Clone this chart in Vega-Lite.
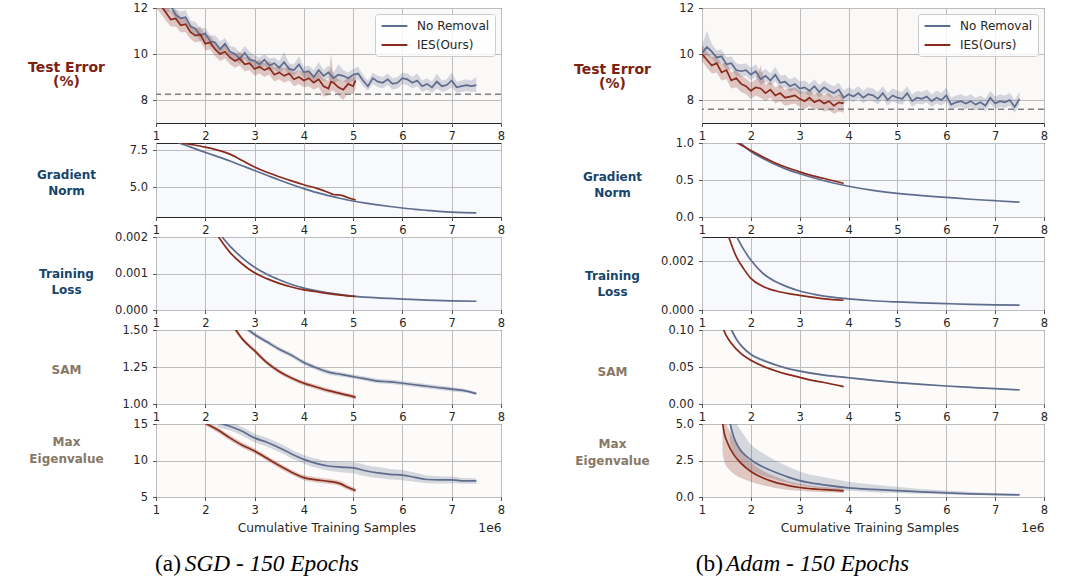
{
"$schema":"https://vega.github.io/schema/vega-lite/v6.json",
"background":"white",
"padding":{"left":27,"top":1,"right":5,"bottom":0},
"config":{
 "font":"DejaVu Sans",
 "view":{"stroke":"#262626","strokeWidth":1},
 "axis":{"labelFont":"DejaVu Sans","labelFontSize":11.5,"labelColor":"#262626","tickColor":"#262626","tickSize":3.5,"tickWidth":0.8,"domain":false,"grid":true,"gridColor":"#bdbdbd","gridWidth":1,"labelPadding":4,"titleFont":"DejaVu Sans","titleColor":"#262626","titleFontWeight":"normal","titleFontSize":12.25},
 "axisY":{"labelPadding":5,"titleAngle":0,"titleAlign":"center","titleBaseline":"middle","titleX":-90,"titleFontWeight":"bold","titleFontSize":12,"titleLineHeight":16},
 "axisX":{"labelFlush":false}
},
"datasets":{
"sgdTE":[
{"s":"N","x":1.0,"y":12.55,"l":12.25,"h":12.85},{"s":"N","x":1.1,"y":12.4,"l":12.15,"h":12.7},{"s":"N","x":1.2,"y":12.05,"l":11.8,"h":12.35},{"s":"N","x":1.3,"y":12.1,"l":11.85,"h":12.4},{"s":"N","x":1.4,"y":11.7,"l":11.45,"h":11.95},{"s":"N","x":1.5,"y":11.55,"l":11.3,"h":11.85},{"s":"N","x":1.6,"y":11.6,"l":11.35,"h":11.9},{"s":"N","x":1.7,"y":11.2,"l":10.95,"h":11.45},{"s":"N","x":1.8,"y":11.1,"l":10.85,"h":11.4},{"s":"N","x":1.9,"y":10.8,"l":10.55,"h":11.1},{"s":"N","x":2.0,"y":10.9,"l":10.65,"h":11.15},{"s":"N","x":2.1,"y":10.55,"l":10.3,"h":10.8},{"s":"N","x":2.2,"y":10.5,"l":10.25,"h":10.8},{"s":"N","x":2.3,"y":10.2,"l":9.95,"h":10.55},{"s":"N","x":2.4,"y":10.45,"l":10.2,"h":10.7},{"s":"N","x":2.5,"y":10.1,"l":9.85,"h":10.35},{"s":"N","x":2.6,"y":10.0,"l":9.75,"h":10.3},{"s":"N","x":2.7,"y":9.8,"l":9.55,"h":10.05},{"s":"N","x":2.8,"y":10.05,"l":9.8,"h":10.35},{"s":"N","x":2.9,"y":9.75,"l":9.5,"h":10.1},{"s":"N","x":3.0,"y":9.7,"l":9.45,"h":9.95},{"s":"N","x":3.1,"y":9.55,"l":9.3,"h":9.85},{"s":"N","x":3.2,"y":9.75,"l":9.5,"h":10.0},{"s":"N","x":3.3,"y":9.5,"l":9.25,"h":9.8},{"s":"N","x":3.4,"y":9.6,"l":9.35,"h":9.85},{"s":"N","x":3.5,"y":9.4,"l":9.15,"h":9.7},{"s":"N","x":3.6,"y":9.65,"l":9.35,"h":10.1},{"s":"N","x":3.7,"y":9.35,"l":9.1,"h":9.6},{"s":"N","x":3.8,"y":9.3,"l":9.05,"h":9.55},{"s":"N","x":3.9,"y":9.55,"l":9.3,"h":9.9},{"s":"N","x":4.0,"y":9.2,"l":8.95,"h":9.45},{"s":"N","x":4.1,"y":9.25,"l":9.0,"h":9.5},{"s":"N","x":4.2,"y":9.0,"l":8.75,"h":9.3},{"s":"N","x":4.3,"y":9.3,"l":9.0,"h":9.65},{"s":"N","x":4.4,"y":9.05,"l":8.8,"h":9.3},{"s":"N","x":4.5,"y":9.2,"l":8.95,"h":9.5},{"s":"N","x":4.6,"y":8.95,"l":8.7,"h":9.2},{"s":"N","x":4.7,"y":9.1,"l":8.85,"h":9.55},{"s":"N","x":4.8,"y":9.05,"l":8.8,"h":9.3},{"s":"N","x":4.9,"y":8.95,"l":8.7,"h":9.2},{"s":"N","x":5.0,"y":9.1,"l":8.85,"h":9.35},{"s":"N","x":5.1,"y":9.15,"l":8.9,"h":9.45},{"s":"N","x":5.2,"y":8.85,"l":8.6,"h":9.1},{"s":"N","x":5.3,"y":8.6,"l":8.4,"h":8.85},{"s":"N","x":5.4,"y":8.95,"l":8.7,"h":9.2},{"s":"N","x":5.5,"y":8.8,"l":8.55,"h":9.05},{"s":"N","x":5.6,"y":8.75,"l":8.5,"h":9.0},{"s":"N","x":5.7,"y":8.9,"l":8.65,"h":9.15},{"s":"N","x":5.8,"y":8.7,"l":8.45,"h":8.95},{"s":"N","x":5.9,"y":8.75,"l":8.5,"h":9.0},{"s":"N","x":6.0,"y":8.95,"l":8.7,"h":9.2},{"s":"N","x":6.1,"y":8.9,"l":8.65,"h":9.15},{"s":"N","x":6.2,"y":8.75,"l":8.5,"h":9.0},{"s":"N","x":6.3,"y":8.85,"l":8.6,"h":9.15},{"s":"N","x":6.4,"y":8.6,"l":8.35,"h":8.85},{"s":"N","x":6.5,"y":8.7,"l":8.45,"h":8.95},{"s":"N","x":6.6,"y":8.55,"l":8.3,"h":8.8},{"s":"N","x":6.7,"y":8.8,"l":8.5,"h":9.15},{"s":"N","x":6.8,"y":8.6,"l":8.35,"h":8.85},{"s":"N","x":6.9,"y":8.65,"l":8.4,"h":8.9},{"s":"N","x":7.0,"y":8.85,"l":8.55,"h":9.2},{"s":"N","x":7.1,"y":8.55,"l":8.3,"h":8.8},{"s":"N","x":7.2,"y":8.6,"l":8.35,"h":8.85},{"s":"N","x":7.3,"y":8.65,"l":8.4,"h":8.9},{"s":"N","x":7.4,"y":8.6,"l":8.35,"h":8.85},{"s":"N","x":7.5,"y":8.65,"l":8.35,"h":9.0},
{"s":"I","x":1.0,"y":12.4,"l":12.0,"h":12.8},{"s":"I","x":1.1,"y":12.1,"l":11.75,"h":12.5},{"s":"I","x":1.2,"y":11.8,"l":11.45,"h":12.15},{"s":"I","x":1.3,"y":11.5,"l":11.2,"h":11.85},{"s":"I","x":1.4,"y":11.55,"l":11.2,"h":11.9},{"s":"I","x":1.5,"y":11.25,"l":10.95,"h":11.6},{"s":"I","x":1.6,"y":11.3,"l":10.95,"h":11.6},{"s":"I","x":1.7,"y":10.95,"l":10.65,"h":11.3},{"s":"I","x":1.8,"y":10.8,"l":10.5,"h":11.1},{"s":"I","x":1.9,"y":10.85,"l":10.55,"h":11.2},{"s":"I","x":2.0,"y":10.45,"l":10.15,"h":10.8},{"s":"I","x":2.1,"y":10.5,"l":10.2,"h":10.8},{"s":"I","x":2.2,"y":10.2,"l":9.9,"h":10.5},{"s":"I","x":2.3,"y":10.0,"l":9.7,"h":10.3},{"s":"I","x":2.4,"y":10.1,"l":9.8,"h":10.4},{"s":"I","x":2.5,"y":9.85,"l":9.55,"h":10.15},{"s":"I","x":2.6,"y":9.7,"l":9.4,"h":10.0},{"s":"I","x":2.7,"y":9.8,"l":9.5,"h":10.1},{"s":"I","x":2.8,"y":9.55,"l":9.25,"h":9.85},{"s":"I","x":2.9,"y":9.6,"l":9.3,"h":9.9},{"s":"I","x":3.0,"y":9.35,"l":9.05,"h":9.65},{"s":"I","x":3.1,"y":9.45,"l":9.15,"h":9.75},{"s":"I","x":3.2,"y":9.3,"l":9.0,"h":9.6},{"s":"I","x":3.3,"y":9.4,"l":9.1,"h":9.7},{"s":"I","x":3.4,"y":9.1,"l":8.8,"h":9.4},{"s":"I","x":3.5,"y":9.2,"l":8.9,"h":9.5},{"s":"I","x":3.6,"y":9.05,"l":8.75,"h":9.35},{"s":"I","x":3.7,"y":9.15,"l":8.85,"h":9.5},{"s":"I","x":3.8,"y":8.9,"l":8.6,"h":9.2},{"s":"I","x":3.9,"y":9.0,"l":8.7,"h":9.3},{"s":"I","x":4.0,"y":8.85,"l":8.55,"h":9.15},{"s":"I","x":4.1,"y":8.95,"l":8.6,"h":9.3},{"s":"I","x":4.2,"y":8.75,"l":8.45,"h":9.05},{"s":"I","x":4.3,"y":8.9,"l":8.55,"h":9.2},{"s":"I","x":4.4,"y":8.6,"l":8.15,"h":8.9},{"s":"I","x":4.5,"y":8.5,"l":8.2,"h":8.85},{"s":"I","x":4.55,"y":8.8,"l":8.4,"h":10.0},{"s":"I","x":4.6,"y":8.75,"l":8.4,"h":9.1},{"s":"I","x":4.7,"y":8.55,"l":8.2,"h":8.9},{"s":"I","x":4.8,"y":8.45,"l":8.0,"h":8.8},{"s":"I","x":4.9,"y":8.7,"l":8.3,"h":9.0},{"s":"I","x":5.0,"y":8.6,"l":8.25,"h":8.95},{"s":"I","x":5.05,"y":8.85,"l":8.5,"h":9.15}
],
"adamTE":[
{"s":"N","x":1.0,"y":10.05,"l":9.75,"h":10.4},{"s":"N","x":1.1,"y":10.3,"l":9.95,"h":11.0},{"s":"N","x":1.2,"y":10.1,"l":9.8,"h":10.45},{"s":"N","x":1.3,"y":9.85,"l":9.55,"h":10.15},{"s":"N","x":1.4,"y":9.9,"l":9.6,"h":10.2},{"s":"N","x":1.5,"y":9.55,"l":9.3,"h":9.85},{"s":"N","x":1.6,"y":9.6,"l":9.35,"h":9.9},{"s":"N","x":1.7,"y":9.3,"l":9.05,"h":9.6},{"s":"N","x":1.8,"y":9.25,"l":9.0,"h":9.55},{"s":"N","x":1.9,"y":9.3,"l":9.05,"h":9.6},{"s":"N","x":2.0,"y":9.1,"l":8.85,"h":9.4},{"s":"N","x":2.1,"y":9.25,"l":9.0,"h":9.55},{"s":"N","x":2.2,"y":8.9,"l":8.65,"h":9.2},{"s":"N","x":2.3,"y":9.05,"l":8.8,"h":9.35},{"s":"N","x":2.4,"y":8.85,"l":8.6,"h":9.15},{"s":"N","x":2.5,"y":9.1,"l":8.8,"h":9.45},{"s":"N","x":2.6,"y":8.75,"l":8.5,"h":9.05},{"s":"N","x":2.7,"y":8.8,"l":8.55,"h":9.1},{"s":"N","x":2.8,"y":8.6,"l":8.35,"h":8.9},{"s":"N","x":2.9,"y":8.7,"l":8.45,"h":9.0},{"s":"N","x":3.0,"y":8.5,"l":8.25,"h":8.8},{"s":"N","x":3.1,"y":8.55,"l":8.3,"h":8.85},{"s":"N","x":3.2,"y":8.4,"l":8.15,"h":8.7},{"s":"N","x":3.3,"y":8.6,"l":8.35,"h":8.9},{"s":"N","x":3.4,"y":8.35,"l":8.1,"h":8.65},{"s":"N","x":3.5,"y":8.55,"l":8.3,"h":8.85},{"s":"N","x":3.6,"y":8.4,"l":8.15,"h":8.7},{"s":"N","x":3.7,"y":8.3,"l":8.05,"h":8.6},{"s":"N","x":3.8,"y":8.45,"l":8.2,"h":8.75},{"s":"N","x":3.9,"y":8.1,"l":7.85,"h":8.4},{"s":"N","x":4.0,"y":8.25,"l":8.0,"h":8.55},{"s":"N","x":4.1,"y":8.15,"l":7.9,"h":8.45},{"s":"N","x":4.2,"y":8.3,"l":8.05,"h":8.6},{"s":"N","x":4.3,"y":8.1,"l":7.85,"h":8.4},{"s":"N","x":4.4,"y":8.25,"l":8.0,"h":8.55},{"s":"N","x":4.5,"y":8.2,"l":7.95,"h":8.5},{"s":"N","x":4.6,"y":8.05,"l":7.8,"h":8.35},{"s":"N","x":4.7,"y":8.3,"l":8.05,"h":8.6},{"s":"N","x":4.8,"y":8.0,"l":7.75,"h":8.3},{"s":"N","x":4.9,"y":8.2,"l":7.95,"h":8.5},{"s":"N","x":5.0,"y":8.1,"l":7.85,"h":8.4},{"s":"N","x":5.1,"y":8.05,"l":7.8,"h":8.35},{"s":"N","x":5.2,"y":8.3,"l":8.05,"h":8.6},{"s":"N","x":5.3,"y":7.95,"l":7.7,"h":8.25},{"s":"N","x":5.4,"y":8.1,"l":7.85,"h":8.4},{"s":"N","x":5.5,"y":8.05,"l":7.8,"h":8.35},{"s":"N","x":5.6,"y":8.15,"l":7.9,"h":8.45},{"s":"N","x":5.7,"y":7.95,"l":7.7,"h":8.25},{"s":"N","x":5.8,"y":8.1,"l":7.85,"h":8.4},{"s":"N","x":5.9,"y":8.0,"l":7.75,"h":8.3},{"s":"N","x":6.0,"y":8.2,"l":7.95,"h":8.55},{"s":"N","x":6.1,"y":7.8,"l":7.55,"h":8.1},{"s":"N","x":6.2,"y":7.9,"l":7.65,"h":8.2},{"s":"N","x":6.3,"y":7.95,"l":7.7,"h":8.25},{"s":"N","x":6.4,"y":7.85,"l":7.6,"h":8.15},{"s":"N","x":6.5,"y":7.95,"l":7.7,"h":8.25},{"s":"N","x":6.6,"y":7.8,"l":7.55,"h":8.1},{"s":"N","x":6.7,"y":7.9,"l":7.65,"h":8.2},{"s":"N","x":6.8,"y":7.75,"l":7.5,"h":8.05},{"s":"N","x":6.9,"y":8.1,"l":7.85,"h":8.4},{"s":"N","x":7.0,"y":7.85,"l":7.6,"h":8.15},{"s":"N","x":7.1,"y":7.95,"l":7.7,"h":8.25},{"s":"N","x":7.2,"y":7.9,"l":7.65,"h":8.2},{"s":"N","x":7.3,"y":8.0,"l":7.75,"h":8.3},{"s":"N","x":7.4,"y":7.7,"l":7.45,"h":8.0},{"s":"N","x":7.5,"y":8.05,"l":7.8,"h":8.35},
{"s":"I","x":1.0,"y":10.0,"l":9.7,"h":10.4},{"s":"I","x":1.1,"y":9.75,"l":9.4,"h":10.1},{"s":"I","x":1.2,"y":9.5,"l":9.15,"h":9.85},{"s":"I","x":1.3,"y":9.6,"l":9.2,"h":9.95},{"s":"I","x":1.4,"y":9.2,"l":8.85,"h":9.55},{"s":"I","x":1.5,"y":9.3,"l":8.9,"h":9.65},{"s":"I","x":1.6,"y":8.85,"l":8.5,"h":9.2},{"s":"I","x":1.7,"y":8.95,"l":8.55,"h":9.3},{"s":"I","x":1.8,"y":8.7,"l":8.35,"h":9.05},{"s":"I","x":1.9,"y":8.6,"l":8.25,"h":8.95},{"s":"I","x":2.0,"y":8.4,"l":8.05,"h":8.75},{"s":"I","x":2.1,"y":8.55,"l":8.2,"h":8.9},{"s":"I","x":2.2,"y":8.5,"l":8.1,"h":9.5},{"s":"I","x":2.3,"y":8.3,"l":7.95,"h":8.65},{"s":"I","x":2.4,"y":8.45,"l":8.1,"h":8.8},{"s":"I","x":2.5,"y":8.2,"l":7.85,"h":8.55},{"s":"I","x":2.6,"y":8.3,"l":7.95,"h":8.65},{"s":"I","x":2.7,"y":8.1,"l":7.75,"h":8.45},{"s":"I","x":2.8,"y":8.15,"l":7.8,"h":8.5},{"s":"I","x":2.9,"y":8.2,"l":7.85,"h":8.55},{"s":"I","x":3.0,"y":8.05,"l":7.7,"h":8.4},{"s":"I","x":3.1,"y":7.95,"l":7.6,"h":8.3},{"s":"I","x":3.2,"y":8.1,"l":7.75,"h":8.45},{"s":"I","x":3.3,"y":7.9,"l":7.55,"h":8.25},{"s":"I","x":3.4,"y":8.0,"l":7.65,"h":8.35},{"s":"I","x":3.5,"y":7.85,"l":7.5,"h":8.2},{"s":"I","x":3.6,"y":7.95,"l":7.55,"h":8.3},{"s":"I","x":3.7,"y":7.75,"l":7.4,"h":8.1},{"s":"I","x":3.8,"y":7.9,"l":7.5,"h":8.25},{"s":"I","x":3.9,"y":7.85,"l":7.45,"h":8.2}
],
"sgdGN":[
{"s":"N","x":1.45,"y":8.02},{"s":"N","x":1.6,"y":7.85},{"s":"N","x":1.8,"y":7.6},{"s":"N","x":2.0,"y":7.37},{"s":"N","x":2.25,"y":7.08},{"s":"N","x":2.5,"y":6.78},{"s":"N","x":2.75,"y":6.46},{"s":"N","x":3.0,"y":6.14},{"s":"N","x":3.25,"y":5.82},{"s":"N","x":3.5,"y":5.5},{"s":"N","x":3.75,"y":5.2},{"s":"N","x":4.0,"y":4.92},{"s":"N","x":4.25,"y":4.66},{"s":"N","x":4.5,"y":4.44},{"s":"N","x":4.75,"y":4.25},{"s":"N","x":5.0,"y":4.08},{"s":"N","x":5.25,"y":3.94},{"s":"N","x":5.5,"y":3.82},{"s":"N","x":5.75,"y":3.71},{"s":"N","x":6.0,"y":3.61},{"s":"N","x":6.25,"y":3.52},{"s":"N","x":6.5,"y":3.45},{"s":"N","x":6.75,"y":3.38},{"s":"N","x":7.0,"y":3.33},{"s":"N","x":7.25,"y":3.3},{"s":"N","x":7.5,"y":3.28},
{"s":"I","x":1.5,"y":8.02},{"s":"I","x":1.75,"y":7.88},{"s":"I","x":2.0,"y":7.72},{"s":"I","x":2.25,"y":7.52},{"s":"I","x":2.5,"y":7.25},{"s":"I","x":2.75,"y":6.82},{"s":"I","x":3.0,"y":6.38},{"s":"I","x":3.25,"y":6.02},{"s":"I","x":3.5,"y":5.72},{"s":"I","x":3.75,"y":5.44},{"s":"I","x":4.0,"y":5.18},{"s":"I","x":4.25,"y":4.95},{"s":"I","x":4.5,"y":4.66},{"s":"I","x":4.6,"y":4.52},{"s":"I","x":4.75,"y":4.48},{"s":"I","x":4.9,"y":4.3},{"s":"I","x":5.05,"y":4.16}
],
"sgdTL":[
{"s":"N","x":2.3,"y":0.00207},{"s":"N","x":2.5,"y":0.00175},{"s":"N","x":2.75,"y":0.00143},{"s":"N","x":3.0,"y":0.00117},{"s":"N","x":3.25,"y":0.00098},{"s":"N","x":3.5,"y":0.00083},{"s":"N","x":3.75,"y":0.0007},{"s":"N","x":4.0,"y":0.0006},{"s":"N","x":4.5,"y":0.00047},{"s":"N","x":5.0,"y":0.00038},{"s":"N","x":5.5,"y":0.00033},{"s":"N","x":6.0,"y":0.0003},{"s":"N","x":6.5,"y":0.00027},{"s":"N","x":7.0,"y":0.00025},{"s":"N","x":7.5,"y":0.00024},
{"s":"I","x":2.23,"y":0.00208},{"s":"I","x":2.5,"y":0.00158},{"s":"I","x":2.75,"y":0.00126},{"s":"I","x":3.0,"y":0.00102},{"s":"I","x":3.25,"y":0.00086},{"s":"I","x":3.5,"y":0.00073},{"s":"I","x":3.75,"y":0.00063},{"s":"I","x":4.0,"y":0.00055},{"s":"I","x":4.25,"y":0.0005},{"s":"I","x":4.5,"y":0.00045},{"s":"I","x":4.75,"y":0.00041},{"s":"I","x":5.05,"y":0.00037}
],
"sgdSAM":[
{"s":"N","x":2.8,"y":1.52,"l":1.505,"h":1.535},{"s":"N","x":3.0,"y":1.47,"l":1.455,"h":1.485},{"s":"N","x":3.25,"y":1.42,"l":1.405,"h":1.435},{"s":"N","x":3.5,"y":1.37,"l":1.355,"h":1.385},{"s":"N","x":3.75,"y":1.33,"l":1.315,"h":1.345},{"s":"N","x":4.0,"y":1.28,"l":1.265,"h":1.295},{"s":"N","x":4.25,"y":1.245,"l":1.23,"h":1.26},{"s":"N","x":4.5,"y":1.215,"l":1.2,"h":1.23},{"s":"N","x":4.75,"y":1.2,"l":1.185,"h":1.215},{"s":"N","x":5.0,"y":1.185,"l":1.17,"h":1.2},{"s":"N","x":5.25,"y":1.17,"l":1.155,"h":1.185},{"s":"N","x":5.5,"y":1.155,"l":1.14,"h":1.17},{"s":"N","x":5.75,"y":1.15,"l":1.135,"h":1.165},{"s":"N","x":6.0,"y":1.14,"l":1.125,"h":1.155},{"s":"N","x":6.25,"y":1.13,"l":1.115,"h":1.145},{"s":"N","x":6.5,"y":1.12,"l":1.105,"h":1.135},{"s":"N","x":6.75,"y":1.11,"l":1.095,"h":1.125},{"s":"N","x":7.0,"y":1.1,"l":1.085,"h":1.115},{"s":"N","x":7.25,"y":1.09,"l":1.077,"h":1.103},{"s":"N","x":7.5,"y":1.07,"l":1.06,"h":1.08},
{"s":"I","x":2.58,"y":1.52,"l":1.5,"h":1.54},{"s":"I","x":2.75,"y":1.44,"l":1.425,"h":1.455},{"s":"I","x":3.0,"y":1.36,"l":1.345,"h":1.375},{"s":"I","x":3.25,"y":1.28,"l":1.265,"h":1.295},{"s":"I","x":3.5,"y":1.22,"l":1.205,"h":1.235},{"s":"I","x":3.75,"y":1.175,"l":1.16,"h":1.19},{"s":"I","x":4.0,"y":1.14,"l":1.125,"h":1.155},{"s":"I","x":4.25,"y":1.115,"l":1.1,"h":1.13},{"s":"I","x":4.5,"y":1.09,"l":1.075,"h":1.105},{"s":"I","x":4.75,"y":1.07,"l":1.055,"h":1.085},{"s":"I","x":5.0,"y":1.05,"l":1.035,"h":1.065},{"s":"I","x":5.05,"y":1.045,"l":1.03,"h":1.06}
],
"sgdEIG":[
{"s":"N","x":2.25,"y":15.2,"l":14.6,"h":15.8},{"s":"N","x":2.5,"y":14.7,"l":14.1,"h":15.3},{"s":"N","x":2.75,"y":14.0,"l":13.4,"h":14.6},{"s":"N","x":3.0,"y":13.1,"l":12.5,"h":13.7},{"s":"N","x":3.25,"y":12.5,"l":11.9,"h":13.1},{"s":"N","x":3.5,"y":11.75,"l":11.15,"h":12.35},{"s":"N","x":3.75,"y":10.9,"l":10.3,"h":11.5},{"s":"N","x":4.0,"y":10.15,"l":9.55,"h":10.75},{"s":"N","x":4.25,"y":9.6,"l":9.0,"h":10.25},{"s":"N","x":4.5,"y":9.25,"l":8.6,"h":9.9},{"s":"N","x":4.75,"y":9.1,"l":8.4,"h":9.8},{"s":"N","x":5.0,"y":9.0,"l":8.25,"h":9.75},{"s":"N","x":5.25,"y":8.6,"l":7.85,"h":9.4},{"s":"N","x":5.5,"y":8.3,"l":7.6,"h":9.1},{"s":"N","x":5.75,"y":8.1,"l":7.4,"h":8.85},{"s":"N","x":6.0,"y":8.0,"l":7.3,"h":8.7},{"s":"N","x":6.25,"y":7.7,"l":7.1,"h":8.35},{"s":"N","x":6.5,"y":7.4,"l":6.9,"h":7.95},{"s":"N","x":6.75,"y":7.35,"l":6.85,"h":7.85},{"s":"N","x":7.0,"y":7.35,"l":6.9,"h":7.8},{"s":"N","x":7.25,"y":7.2,"l":6.8,"h":7.6},{"s":"N","x":7.5,"y":7.2,"l":6.8,"h":7.55},
{"s":"I","x":2.0,"y":15.1,"l":14.8,"h":15.4},{"s":"I","x":2.25,"y":14.2,"l":13.85,"h":14.55},{"s":"I","x":2.5,"y":13.1,"l":12.75,"h":13.45},{"s":"I","x":2.75,"y":12.1,"l":11.75,"h":12.45},{"s":"I","x":3.0,"y":11.3,"l":10.95,"h":11.65},{"s":"I","x":3.25,"y":10.3,"l":9.95,"h":10.65},{"s":"I","x":3.5,"y":9.3,"l":8.95,"h":9.65},{"s":"I","x":3.75,"y":8.4,"l":8.05,"h":8.75},{"s":"I","x":4.0,"y":7.65,"l":7.3,"h":8.0},{"s":"I","x":4.25,"y":7.35,"l":7.0,"h":7.7},{"s":"I","x":4.5,"y":7.15,"l":6.8,"h":7.5},{"s":"I","x":4.75,"y":6.8,"l":6.45,"h":7.15},{"s":"I","x":4.9,"y":6.3,"l":5.95,"h":6.65},{"s":"I","x":5.05,"y":5.9,"l":5.6,"h":6.2}
],
"adamGN":[
{"s":"N","x":1.77,"y":1.01},{"s":"N","x":2.0,"y":0.885},{"s":"N","x":2.25,"y":0.79},{"s":"N","x":2.5,"y":0.71},{"s":"N","x":2.75,"y":0.64},{"s":"N","x":3.0,"y":0.585},{"s":"N","x":3.5,"y":0.49},{"s":"N","x":4.0,"y":0.415},{"s":"N","x":4.5,"y":0.36},{"s":"N","x":5.0,"y":0.32},{"s":"N","x":5.5,"y":0.29},{"s":"N","x":6.0,"y":0.265},{"s":"N","x":6.5,"y":0.24},{"s":"N","x":7.0,"y":0.22},{"s":"N","x":7.5,"y":0.2},
{"s":"I","x":1.7,"y":1.01},{"s":"I","x":2.0,"y":0.9},{"s":"I","x":2.25,"y":0.81},{"s":"I","x":2.5,"y":0.73},{"s":"I","x":2.75,"y":0.665},{"s":"I","x":3.0,"y":0.61},{"s":"I","x":3.25,"y":0.56},{"s":"I","x":3.5,"y":0.52},{"s":"I","x":3.75,"y":0.48},{"s":"I","x":3.9,"y":0.455}
],
"adamTL":[
{"s":"N","x":1.7,"y":0.00305},{"s":"N","x":1.85,"y":0.0025},{"s":"N","x":2.0,"y":0.00205},{"s":"N","x":2.25,"y":0.0015},{"s":"N","x":2.5,"y":0.00117},{"s":"N","x":2.75,"y":0.00095},{"s":"N","x":3.0,"y":0.00078},{"s":"N","x":3.5,"y":0.00057},{"s":"N","x":4.0,"y":0.00046},{"s":"N","x":4.5,"y":0.00038},{"s":"N","x":5.0,"y":0.00033},{"s":"N","x":5.5,"y":0.00029},{"s":"N","x":6.0,"y":0.00026},{"s":"N","x":6.5,"y":0.00023},{"s":"N","x":7.0,"y":0.00021},{"s":"N","x":7.5,"y":0.0002},
{"s":"I","x":1.54,"y":0.00305},{"s":"I","x":1.6,"y":0.0027},{"s":"I","x":1.7,"y":0.0022},{"s":"I","x":1.85,"y":0.0017},{"s":"I","x":2.0,"y":0.0013},{"s":"I","x":2.25,"y":0.00097},{"s":"I","x":2.5,"y":0.00079},{"s":"I","x":2.75,"y":0.00068},{"s":"I","x":3.0,"y":0.0006},{"s":"I","x":3.5,"y":0.00046},{"s":"I","x":3.9,"y":0.0004}
],
"adamSAM":[
{"s":"N","x":1.59,"y":0.102,"l":0.099,"h":0.105},{"s":"N","x":1.7,"y":0.088,"l":0.085,"h":0.091},{"s":"N","x":1.8,"y":0.079,"l":0.0765,"h":0.0815},{"s":"N","x":2.0,"y":0.067,"l":0.065,"h":0.069},{"s":"N","x":2.25,"y":0.059,"l":0.057,"h":0.061},{"s":"N","x":2.5,"y":0.053,"l":0.0515,"h":0.0545},{"s":"N","x":2.75,"y":0.048,"l":0.0465,"h":0.0495},{"s":"N","x":3.0,"y":0.0445,"l":0.043,"h":0.046},{"s":"N","x":3.5,"y":0.039,"l":0.0377,"h":0.0403},{"s":"N","x":4.0,"y":0.0355,"l":0.0343,"h":0.0367},{"s":"N","x":4.5,"y":0.032,"l":0.0309,"h":0.0331},{"s":"N","x":5.0,"y":0.029,"l":0.028,"h":0.03},{"s":"N","x":5.5,"y":0.0265,"l":0.0256,"h":0.0274},{"s":"N","x":6.0,"y":0.0243,"l":0.0235,"h":0.0251},{"s":"N","x":6.5,"y":0.0225,"l":0.0217,"h":0.0233},{"s":"N","x":7.0,"y":0.0207,"l":0.02,"h":0.0214},{"s":"N","x":7.5,"y":0.019,"l":0.0184,"h":0.0196},
{"s":"I","x":1.43,"y":0.102,"l":0.1,"h":0.104},{"s":"I","x":1.5,"y":0.092,"l":0.09,"h":0.094},{"s":"I","x":1.6,"y":0.082,"l":0.0803,"h":0.0837},{"s":"I","x":1.8,"y":0.068,"l":0.0665,"h":0.0695},{"s":"I","x":2.0,"y":0.059,"l":0.0577,"h":0.0603},{"s":"I","x":2.25,"y":0.051,"l":0.0498,"h":0.0522},{"s":"I","x":2.5,"y":0.045,"l":0.044,"h":0.046},{"s":"I","x":2.75,"y":0.04,"l":0.0391,"h":0.0409},{"s":"I","x":3.0,"y":0.036,"l":0.0352,"h":0.0368},{"s":"I","x":3.25,"y":0.032,"l":0.0313,"h":0.0327},{"s":"I","x":3.5,"y":0.029,"l":0.0284,"h":0.0296},{"s":"I","x":3.9,"y":0.0235,"l":0.023,"h":0.024}
],
"adamEIG":[
{"s":"N","x":1.57,"y":5.1,"l":3.8,"h":5.5},{"s":"N","x":1.65,"y":4.1,"l":3.0,"h":5.3},{"s":"N","x":1.75,"y":3.4,"l":2.5,"h":4.8},{"s":"N","x":2.0,"y":2.55,"l":1.85,"h":3.6},{"s":"N","x":2.25,"y":2.05,"l":1.45,"h":3.0},{"s":"N","x":2.5,"y":1.7,"l":1.2,"h":2.5},{"s":"N","x":2.75,"y":1.38,"l":0.98,"h":2.1},{"s":"N","x":3.0,"y":1.12,"l":0.8,"h":1.75},{"s":"N","x":3.5,"y":0.83,"l":0.57,"h":1.35},{"s":"N","x":4.0,"y":0.63,"l":0.42,"h":1.05},{"s":"N","x":4.5,"y":0.52,"l":0.33,"h":0.85},{"s":"N","x":5.0,"y":0.43,"l":0.27,"h":0.7},{"s":"N","x":5.5,"y":0.35,"l":0.22,"h":0.55},{"s":"N","x":6.0,"y":0.28,"l":0.17,"h":0.45},{"s":"N","x":6.5,"y":0.22,"l":0.13,"h":0.35},{"s":"N","x":7.0,"y":0.18,"l":0.11,"h":0.28},{"s":"N","x":7.5,"y":0.15,"l":0.09,"h":0.22},
{"s":"I","x":1.42,"y":5.1,"l":3.0,"h":5.5},{"s":"I","x":1.46,"y":4.3,"l":2.4,"h":5.3},{"s":"I","x":1.5,"y":3.9,"l":2.1,"h":5.0},{"s":"I","x":1.55,"y":3.5,"l":1.9,"h":4.6},{"s":"I","x":1.65,"y":2.9,"l":1.6,"h":3.9},{"s":"I","x":1.8,"y":2.3,"l":1.3,"h":3.1},{"s":"I","x":2.0,"y":1.75,"l":1.05,"h":2.4},{"s":"I","x":2.25,"y":1.3,"l":0.8,"h":1.8},{"s":"I","x":2.5,"y":1.0,"l":0.62,"h":1.4},{"s":"I","x":2.75,"y":0.8,"l":0.5,"h":1.1},{"s":"I","x":3.0,"y":0.65,"l":0.42,"h":0.9},{"s":"I","x":3.25,"y":0.56,"l":0.36,"h":0.77},{"s":"I","x":3.5,"y":0.5,"l":0.33,"h":0.68},{"s":"I","x":3.9,"y":0.42,"l":0.28,"h":0.56}
]
},
"columns":2,
"bounds":"flush",
"spacing":{"row":20,"column":201},
"resolve":{"scale":{"color":"independent"},"legend":{"color":"independent"}},
"concat":[
{"width":345,"height":115,"view":{"fill":"#fbf9f8"},"data":{"name":"sgdTE"},
 "layer":[
  {"transform":[{"filter":"datum.s=='N'"}],"mark":{"type":"area","clip":true,"color":"#5e6d8d","opacity":0.25},"encoding":{"x":{"field":"x","type":"quantitative","scale":{"domain":[1,8],"nice":false,"zero":false},"axis":{"values":[1,2,3,4,5,6,7,8],"format":"d","title":null}},"y":{"field":"l","type":"quantitative","scale":{"domain":[7,12],"nice":false,"zero":false}},"y2":{"field":"h"}}},
  {"transform":[{"filter":"datum.s=='I'"}],"mark":{"type":"area","clip":true,"color":"#8a2a1b","opacity":0.25},"encoding":{"x":{"field":"x","type":"quantitative"},"y":{"field":"l","type":"quantitative"},"y2":{"field":"h"}}},
  {"data":{"values":[{"v":8.25}]},"mark":{"type":"rule","color":"#808080","strokeDash":[6,4],"strokeWidth":1.6},"encoding":{"y":{"field":"v","type":"quantitative"}}},
  {"transform":[{"filter":"datum.s=='N'"}],"mark":{"type":"line","clip":true,"strokeWidth":1.7},"encoding":{"x":{"field":"x","type":"quantitative"},"y":{"field":"y","type":"quantitative","axis":{"values":[8,10,12],"tickCount":20,"format":"d","title":["Test Error","(%)"],"titleColor":"#7b2211","titleFontSize":14,"titleY":59,"titleLineHeight":14.5}},"color":{"field":"s","type":"nominal","scale":{"domain":["N","I"],"range":["#5e6d8d","#8a2a1b"]},"legend":{"orient":"top-right","offset":6,"title":null,"symbolType":"M-0.9,0H3.4","symbolSize":144,"symbolStrokeWidth":2,"labelFontSize":12,"labelFont":"DejaVu Sans","labelColor":"#262626","labelOffset":23,"padding":5,"rowPadding":6,"strokeColor":"#cccccc","fillColor":"rgba(255,255,255,0.8)","cornerRadius":3,"labelExpr":"datum.label=='N' ? 'No Removal' : 'IES(Ours)'"}}}},
  {"transform":[{"filter":"datum.s=='I'"}],"mark":{"type":"line","clip":true,"strokeWidth":1.7},"encoding":{"x":{"field":"x","type":"quantitative"},"y":{"field":"y","type":"quantitative"},"color":{"field":"s","type":"nominal"}}}
 ]},
{"width":342,"height":115,"view":{"fill":"#fbf9f8"},"data":{"name":"adamTE"},
 "layer":[
  {"transform":[{"filter":"datum.s=='N'"}],"mark":{"type":"area","clip":true,"color":"#5e6d8d","opacity":0.25},"encoding":{"x":{"field":"x","type":"quantitative","scale":{"domain":[1,8],"nice":false,"zero":false},"axis":{"values":[1,2,3,4,5,6,7,8],"format":"d","title":null}},"y":{"field":"l","type":"quantitative","scale":{"domain":[7,12],"nice":false,"zero":false}},"y2":{"field":"h"}}},
  {"transform":[{"filter":"datum.s=='I'"}],"mark":{"type":"area","clip":true,"color":"#8a2a1b","opacity":0.25},"encoding":{"x":{"field":"x","type":"quantitative"},"y":{"field":"l","type":"quantitative"},"y2":{"field":"h"}}},
  {"data":{"values":[{"v":7.6}]},"mark":{"type":"rule","color":"#808080","strokeDash":[6,4],"strokeWidth":1.6},"encoding":{"y":{"field":"v","type":"quantitative"}}},
  {"transform":[{"filter":"datum.s=='N'"}],"mark":{"type":"line","clip":true,"strokeWidth":1.7},"encoding":{"x":{"field":"x","type":"quantitative"},"y":{"field":"y","type":"quantitative","axis":{"values":[8,10,12],"tickCount":20,"format":"d","title":["Test Error","(%)"],"titleColor":"#7b2211","titleFontSize":14,"titleY":61,"titleLineHeight":14.5}},"color":{"field":"s","type":"nominal","scale":{"domain":["N","I"],"range":["#5e6d8d","#8a2a1b"]},"legend":{"orient":"top-right","offset":6,"title":null,"symbolType":"M-0.9,0H3.4","symbolSize":144,"symbolStrokeWidth":2,"labelFontSize":12,"labelFont":"DejaVu Sans","labelColor":"#262626","labelOffset":23,"padding":5,"rowPadding":6,"strokeColor":"#cccccc","fillColor":"rgba(255,255,255,0.8)","cornerRadius":3,"labelExpr":"datum.label=='N' ? 'No Removal' : 'IES(Ours)'"}}}},
  {"transform":[{"filter":"datum.s=='I'"}],"mark":{"type":"line","clip":true,"strokeWidth":1.7},"encoding":{"x":{"field":"x","type":"quantitative"},"y":{"field":"y","type":"quantitative"},"color":{"field":"s","type":"nominal"}}}
 ]},
{"width":345,"height":74,"view":{"fill":"#f7f9fc"},"data":{"name":"sgdGN"},
 "encoding":{"x":{"field":"x","type":"quantitative","scale":{"domain":[1,8],"nice":false,"zero":false},"axis":{"values":[1,2,3,4,5,6,7,8],"format":"d","title":null}}},
 "layer":[
  {"transform":[{"filter":"datum.s=='N'"}],"mark":{"type":"line","clip":true,"strokeWidth":1.7,"color":"#5e6d8d","interpolate":"monotone"},"encoding":{"y":{"field":"y","type":"quantitative","scale":{"domain":[3.0,8.0],"nice":false,"zero":false},"axis":{"values":[5,7.5],"tickCount":20,"format":".1f","title":["Gradient","Norm"],"titleColor":"#17456b","titleY":31}}}},
  {"transform":[{"filter":"datum.s=='I'"}],"mark":{"type":"line","clip":true,"strokeWidth":1.7,"color":"#8a2a1b","interpolate":"monotone"},"encoding":{"y":{"field":"y","type":"quantitative"}}}
 ]},
{"width":342,"height":74,"view":{"fill":"#f7f9fc"},"data":{"name":"adamGN"},
 "encoding":{"x":{"field":"x","type":"quantitative","scale":{"domain":[1,8],"nice":false,"zero":false},"axis":{"values":[1,2,3,4,5,6,7,8],"format":"d","title":null}}},
 "layer":[
  {"transform":[{"filter":"datum.s=='N'"}],"mark":{"type":"line","clip":true,"strokeWidth":1.7,"color":"#5e6d8d","interpolate":"monotone"},"encoding":{"y":{"field":"y","type":"quantitative","scale":{"domain":[0,1],"nice":false,"zero":false},"axis":{"values":[0,0.5,1],"tickCount":20,"format":".1f","title":["Gradient","Norm"],"titleColor":"#17456b","titleY":33}}}},
  {"transform":[{"filter":"datum.s=='I'"}],"mark":{"type":"line","clip":true,"strokeWidth":1.7,"color":"#8a2a1b","interpolate":"monotone"},"encoding":{"y":{"field":"y","type":"quantitative"}}}
 ]},
{"width":345,"height":73,"view":{"fill":"#f7f9fc"},"data":{"name":"sgdTL"},
 "encoding":{"x":{"field":"x","type":"quantitative","scale":{"domain":[1,8],"nice":false,"zero":false},"axis":{"values":[1,2,3,4,5,6,7,8],"format":"d","title":null}}},
 "layer":[
  {"transform":[{"filter":"datum.s=='N'"}],"mark":{"type":"line","clip":true,"strokeWidth":1.7,"color":"#5e6d8d","interpolate":"monotone"},"encoding":{"y":{"field":"y","type":"quantitative","scale":{"domain":[0,0.002],"nice":false,"zero":false},"axis":{"values":[0,0.001,0.002],"tickCount":20,"format":".3f","title":["Training","Loss"],"titleColor":"#17456b","titleY":36.5}}}},
  {"transform":[{"filter":"datum.s=='I'"}],"mark":{"type":"line","clip":true,"strokeWidth":1.7,"color":"#8a2a1b","interpolate":"monotone"},"encoding":{"y":{"field":"y","type":"quantitative"}}}
 ]},
{"width":342,"height":73,"view":{"fill":"#f7f9fc"},"data":{"name":"adamTL"},
 "encoding":{"x":{"field":"x","type":"quantitative","scale":{"domain":[1,8],"nice":false,"zero":false},"axis":{"values":[1,2,3,4,5,6,7,8],"format":"d","title":null}}},
 "layer":[
  {"transform":[{"filter":"datum.s=='N'"}],"mark":{"type":"line","clip":true,"strokeWidth":1.7,"color":"#5e6d8d","interpolate":"monotone"},"encoding":{"y":{"field":"y","type":"quantitative","scale":{"domain":[0,0.003],"nice":false,"zero":false},"axis":{"values":[0,0.002],"tickCount":20,"format":".3f","title":["Training","Loss"],"titleColor":"#17456b","titleY":38}}}},
  {"transform":[{"filter":"datum.s=='I'"}],"mark":{"type":"line","clip":true,"strokeWidth":1.7,"color":"#8a2a1b","interpolate":"monotone"},"encoding":{"y":{"field":"y","type":"quantitative"}}}
 ]},
{"width":345,"height":74,"view":{"fill":"#fcfbfa"},"data":{"name":"sgdSAM"},
 "encoding":{"x":{"field":"x","type":"quantitative","scale":{"domain":[1,8],"nice":false,"zero":false},"axis":{"values":[1,2,3,4,5,6,7,8],"format":"d","title":null}}},
 "layer":[
  {"transform":[{"filter":"datum.s=='N'"}],"mark":{"type":"area","clip":true,"color":"#5e6d8d","opacity":0.25,"interpolate":"monotone"},"encoding":{"y":{"field":"l","type":"quantitative","scale":{"domain":[1,1.5],"nice":false,"zero":false}},"y2":{"field":"h"}}},
  {"transform":[{"filter":"datum.s=='I'"}],"mark":{"type":"area","clip":true,"color":"#8a2a1b","opacity":0.25,"interpolate":"monotone"},"encoding":{"y":{"field":"l","type":"quantitative"},"y2":{"field":"h"}}},
  {"transform":[{"filter":"datum.s=='N'"}],"mark":{"type":"line","clip":true,"strokeWidth":1.7,"color":"#5e6d8d","interpolate":"monotone"},"encoding":{"y":{"field":"y","type":"quantitative","axis":{"values":[1,1.25,1.5],"tickCount":20,"format":".2f","title":"SAM","titleColor":"#877865","titleY":39}}}},
  {"transform":[{"filter":"datum.s=='I'"}],"mark":{"type":"line","clip":true,"strokeWidth":1.7,"color":"#8a2a1b","interpolate":"monotone"},"encoding":{"y":{"field":"y","type":"quantitative"}}}
 ]},
{"width":342,"height":74,"view":{"fill":"#fcfbfa"},"data":{"name":"adamSAM"},
 "encoding":{"x":{"field":"x","type":"quantitative","scale":{"domain":[1,8],"nice":false,"zero":false},"axis":{"values":[1,2,3,4,5,6,7,8],"format":"d","title":null}}},
 "layer":[
  {"transform":[{"filter":"datum.s=='N'"}],"mark":{"type":"area","clip":true,"color":"#5e6d8d","opacity":0.25,"interpolate":"monotone"},"encoding":{"y":{"field":"l","type":"quantitative","scale":{"domain":[0,0.1],"nice":false,"zero":false}},"y2":{"field":"h"}}},
  {"transform":[{"filter":"datum.s=='I'"}],"mark":{"type":"area","clip":true,"color":"#8a2a1b","opacity":0.25,"interpolate":"monotone"},"encoding":{"y":{"field":"l","type":"quantitative"},"y2":{"field":"h"}}},
  {"transform":[{"filter":"datum.s=='N'"}],"mark":{"type":"line","clip":true,"strokeWidth":1.7,"color":"#5e6d8d","interpolate":"monotone"},"encoding":{"y":{"field":"y","type":"quantitative","axis":{"values":[0,0.05,0.1],"tickCount":20,"format":".2f","title":"SAM","titleColor":"#877865","titleY":41}}}},
  {"transform":[{"filter":"datum.s=='I'"}],"mark":{"type":"line","clip":true,"strokeWidth":1.7,"color":"#8a2a1b","interpolate":"monotone"},"encoding":{"y":{"field":"y","type":"quantitative"}}}
 ]},
{"width":345,"height":73,"view":{"fill":"#fcfbfa"},"data":{"name":"sgdEIG"},
 "encoding":{"x":{"field":"x","type":"quantitative","scale":{"domain":[1,8],"nice":false,"zero":false},"axis":{"values":[1,2,3,4,5,6,7,8],"format":"d","title":"Cumulative Training Samples\u00a0\u00a0\u00a0\u00a0\u00a0\u00a0\u00a0\u00a0\u00a0\u00a0\u00a0\u00a0\u00a0\u00a0\u00a0\u00a01e6","titleAnchor":"end","titlePadding":5}}},
 "layer":[
  {"transform":[{"filter":"datum.s=='N'"}],"mark":{"type":"area","clip":true,"color":"#5e6d8d","opacity":0.25,"interpolate":"monotone"},"encoding":{"y":{"field":"l","type":"quantitative","scale":{"domain":[5,15],"nice":false,"zero":false}},"y2":{"field":"h"}}},
  {"transform":[{"filter":"datum.s=='I'"}],"mark":{"type":"area","clip":true,"color":"#8a2a1b","opacity":0.25,"interpolate":"monotone"},"encoding":{"y":{"field":"l","type":"quantitative"},"y2":{"field":"h"}}},
  {"transform":[{"filter":"datum.s=='N'"}],"mark":{"type":"line","clip":true,"strokeWidth":1.7,"color":"#5e6d8d","interpolate":"monotone"},"encoding":{"y":{"field":"y","type":"quantitative","axis":{"values":[5,10,15],"tickCount":20,"format":"d","title":["Max","Eigenvalue"],"titleColor":"#877865","titleY":17,"titleLineHeight":17}}}},
  {"transform":[{"filter":"datum.s=='I'"}],"mark":{"type":"line","clip":true,"strokeWidth":1.7,"color":"#8a2a1b","interpolate":"monotone"},"encoding":{"y":{"field":"y","type":"quantitative"}}}
 ]},
{"width":342,"height":73,"view":{"fill":"#fcfbfa"},"data":{"name":"adamEIG"},
 "encoding":{"x":{"field":"x","type":"quantitative","scale":{"domain":[1,8],"nice":false,"zero":false},"axis":{"values":[1,2,3,4,5,6,7,8],"format":"d","title":"Cumulative Training Samples\u00a0\u00a0\u00a0\u00a0\u00a0\u00a0\u00a0\u00a0\u00a0\u00a0\u00a0\u00a0\u00a0\u00a0\u00a0\u00a01e6","titleAnchor":"end","titlePadding":5}}},
 "layer":[
  {"transform":[{"filter":"datum.s=='N'"}],"mark":{"type":"area","clip":true,"color":"#5e6d8d","opacity":0.25,"interpolate":"monotone"},"encoding":{"y":{"field":"l","type":"quantitative","scale":{"domain":[0,5],"nice":false,"zero":false}},"y2":{"field":"h"}}},
  {"transform":[{"filter":"datum.s=='I'"}],"mark":{"type":"area","clip":true,"color":"#8a2a1b","opacity":0.25,"interpolate":"monotone"},"encoding":{"y":{"field":"l","type":"quantitative"},"y2":{"field":"h"}}},
  {"transform":[{"filter":"datum.s=='N'"}],"mark":{"type":"line","clip":true,"strokeWidth":1.7,"color":"#5e6d8d","interpolate":"monotone"},"encoding":{"y":{"field":"y","type":"quantitative","axis":{"values":[0,2.5,5],"tickCount":20,"format":".1f","title":["Max","Eigenvalue"],"titleColor":"#877865","titleY":19.5,"titleLineHeight":17}}}},
  {"transform":[{"filter":"datum.s=='I'"}],"mark":{"type":"line","clip":true,"strokeWidth":1.7,"color":"#8a2a1b","interpolate":"monotone"},"encoding":{"y":{"field":"y","type":"quantitative"}}}
 ]},
{"width":345,"height":56,"view":{"stroke":null,"fill":null},"data":{"values":[{}]},
 "layer":[
  {"mark":{"type":"text","text":"(a)","font":"Liberation Serif","fontSize":23.3,"align":"right","baseline":"middle","color":"#000000"},"encoding":{"x":{"datum":1.505,"type":"quantitative","scale":{"domain":[1,8]},"axis":null},"y":{"datum":0.16,"type":"quantitative","scale":{"domain":[0,1]},"axis":null}}},
  {"mark":{"type":"text","text":"SGD - 150 Epochs","font":"Liberation Serif","fontStyle":"italic","fontSize":23.3,"align":"left","baseline":"middle","color":"#000000"},"encoding":{"x":{"datum":1.585,"type":"quantitative","axis":null},"y":{"datum":0.16,"type":"quantitative","axis":null}}}
 ]},
{"width":342,"height":56,"view":{"stroke":null,"fill":null},"data":{"values":[{}]},
 "layer":[
  {"mark":{"type":"text","text":"(b)","font":"Liberation Serif","fontSize":23.3,"align":"right","baseline":"middle","color":"#000000"},"encoding":{"x":{"datum":1.43,"type":"quantitative","scale":{"domain":[1,8]},"axis":null},"y":{"datum":0.16,"type":"quantitative","scale":{"domain":[0,1]},"axis":null}}},
  {"mark":{"type":"text","text":"Adam - 150 Epochs","font":"Liberation Serif","fontStyle":"italic","fontSize":23.3,"align":"left","baseline":"middle","color":"#000000"},"encoding":{"x":{"datum":1.49,"type":"quantitative","axis":null},"y":{"datum":0.16,"type":"quantitative","axis":null}}}
 ]}
]
}
